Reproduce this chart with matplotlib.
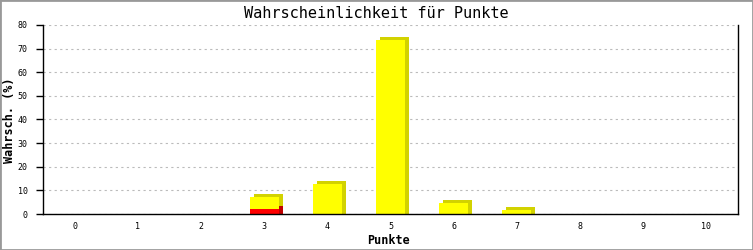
import matplotlib
matplotlib.use("Agg")
import matplotlib.pyplot as plt
from matplotlib.transforms import ScaledTranslation
from matplotlib.patches import Rectangle

categories = [0, 1, 2, 3, 4, 5, 6, 7, 8, 9, 10]
tick_labels = ["0", "1", "2", "3", "4", "5", "6", "7", "8", "9", "10"]
total_values = [0, 0, 0, 7.3, 12.6, 73.7, 4.8, 1.7, 0, 0, 0]
red_values = [0, 0, 0, 2.0, 0, 0, 0, 0, 0, 0, 0]
y_ticks = [0, 10, 20, 30, 40, 50, 60, 70, 80]

title = "Wahrscheinlichkeit für Punkte"
xlabel = "Punkte"
ylabel = "Wahrsch. (%)"

W, H, DPI = 753, 250, 100
fig = plt.figure(figsize=(W / DPI, H / DPI), dpi=DPI)
fig.patch.set_facecolor("white")
ax = fig.add_axes([43 / W, 1 - 214 / H, (738 - 43) / W, (214 - 25) / H])

mono = "DejaVu Sans Mono"
bw = 0.46
shift = ax.transData + ScaledTranslation(4 / DPI, 3 / DPI, fig.dpi_scale_trans)
shift_x = ax.transData + ScaledTranslation(4 / DPI, 0, fig.dpi_scale_trans)

yel, yel_sh = "#ffff00", "#d2d200"
red, red_sh = "#ff0000", "#c00000"

xs = [c for c, v in zip(categories, total_values) if v > 0]
tv = [v for v in total_values if v > 0]
xr = [c for c, v in zip(categories, red_values) if v > 0]
rv = [v for v in red_values if v > 0]

for tr in (shift, shift_x):
    ax.bar(xs, tv, bw, color=yel_sh, transform=tr, zorder=2, linewidth=0)
for tr in (shift, shift_x):
    ax.bar(xr, rv, bw, color=red_sh, transform=tr, zorder=2.1, linewidth=0)
ax.bar(xs, tv, bw, color=yel, zorder=3, linewidth=0)
ax.bar(xr, rv, bw, color=red, zorder=3.1, linewidth=0)

ax.set_xlim(-0.5, 10.5)
ax.set_ylim(0, 80)
ax.set_yticks(y_ticks)
ax.set_yticklabels([str(t) for t in y_ticks], family=mono, fontsize=6)
ax.set_xticks(categories)
ax.set_xticklabels(tick_labels, family=mono, fontsize=6)
ax.tick_params(axis="x", length=0, pad=6)
ax.tick_params(axis="y", length=5, width=1, pad=6, direction="out")

ax.yaxis.grid(True, color="#bbbbbb", linestyle=(0, (2, 3)), linewidth=0.8)
ax.set_axisbelow(True)
for s in ["left", "bottom", "right"]:
    ax.spines[s].set_color("black")
    ax.spines[s].set_linewidth(1)
    ax.spines[s].set_zorder(4)
ax.spines["top"].set_visible(False)

fig.text(376 / W, 1 - 14 / H, title, ha="center", va="center", family=mono, fontsize=11)
fig.text(388 / W, 1 - 240 / H, xlabel, ha="center", va="center", family=mono, fontsize=8.5, fontweight="bold")
fig.text(10 / W, 1 - 120 / H, ylabel, ha="center", va="center", rotation=90, family=mono, fontsize=8.5, fontweight="bold")

fig.patches.append(Rectangle((0, 0), 1, 1, transform=fig.transFigure, fill=False,
                             edgecolor="#999999", linewidth=2, zorder=10))

fig.savefig("out.png", dpi=DPI, facecolor="white")
